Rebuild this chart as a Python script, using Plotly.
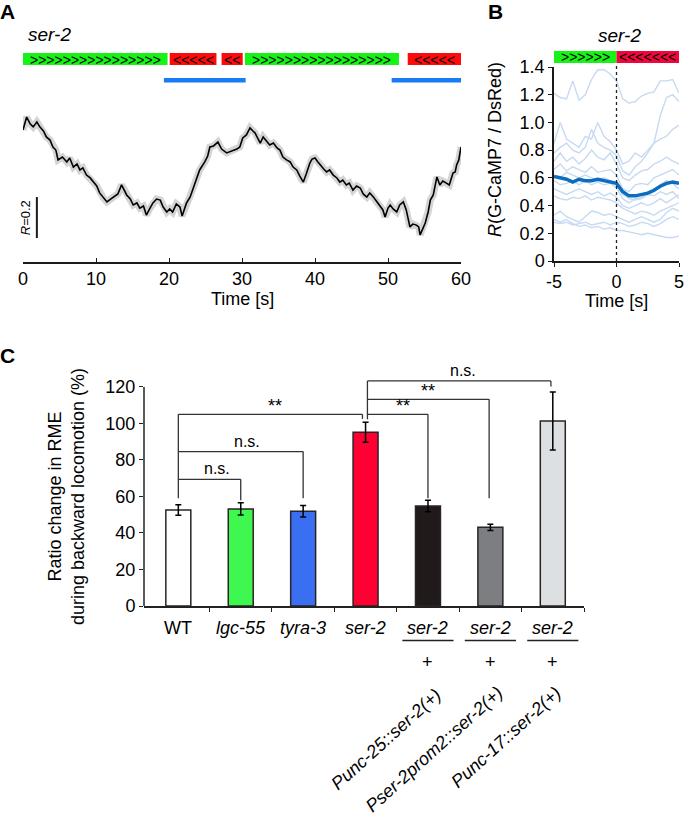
import plotly.graph_objects as go

W, H = 685, 818
def fx(px): return px / W
def fy(py): return 1 - py / H

FONT = "Liberation Sans, Arial, Helvetica, sans-serif"

# ---------------- Panel A data ----------------
a_time = [0, 0.5, 1.0, 1.4, 1.9, 2.3, 2.8, 3.2, 3.7, 4.1, 4.5, 4.8, 5.4, 6.0, 6.4, 6.9, 7.4, 7.8, 8.2, 8.7,
          9.2, 9.6, 10.1, 10.5, 11.0, 11.5, 12.0, 12.4, 13.0, 13.5, 14.0, 14.2, 14.7, 15.1, 15.6, 16.0, 16.5,
          16.9, 17.4, 17.8, 18.3, 18.8, 19.2, 19.7, 20.1, 20.5, 21.0, 21.5, 21.8, 22.4, 22.9, 23.3, 23.8, 24.2,
          24.9, 25.3, 25.6, 26.1, 26.7, 27.2, 27.9, 28.3, 28.8, 29.3, 29.7, 30.1, 30.6, 31.1, 31.5, 31.8, 32.2,
          32.5, 32.9, 33.4, 33.8, 34.3, 34.8, 35.2, 35.6, 36.1, 36.6, 37.0, 37.5, 37.9, 38.4, 38.8, 39.3, 39.6,
          40.0, 40.4, 40.7, 41.2, 41.6, 42.0, 42.5, 43.0, 43.4, 43.8, 44.3, 44.7, 45.2, 45.7, 46.2, 46.6, 47.1,
          47.5, 48.0, 48.4, 48.9, 49.3, 49.6, 50.0, 50.3, 50.7, 51.2, 51.6, 52.1, 52.5, 53.0, 53.4, 53.9, 54.2,
          54.4, 54.8, 55.1, 55.5, 55.8, 56.2, 56.7, 57.1, 57.5, 58.0, 58.4, 58.9, 59.2, 59.4, 59.7, 60.0]
a_ratio = [0.644, 0.707, 0.673, 0.659, 0.683, 0.659, 0.639, 0.610, 0.595, 0.561, 0.546, 0.498, 0.512, 0.488,
           0.507, 0.463, 0.478, 0.449, 0.459, 0.424, 0.410, 0.390, 0.371, 0.337, 0.312, 0.293, 0.307, 0.317,
           0.332, 0.376, 0.341, 0.327, 0.307, 0.278, 0.288, 0.263, 0.273, 0.229, 0.263, 0.288, 0.307, 0.302,
           0.268, 0.244, 0.259, 0.244, 0.283, 0.268, 0.224, 0.288, 0.317, 0.361, 0.410, 0.449, 0.488, 0.517,
           0.561, 0.566, 0.585, 0.551, 0.532, 0.537, 0.546, 0.551, 0.561, 0.605, 0.620, 0.654, 0.639, 0.629,
           0.600, 0.580, 0.610, 0.590, 0.571, 0.580, 0.556, 0.546, 0.512, 0.498, 0.488, 0.463, 0.449, 0.420,
           0.390, 0.429, 0.483, 0.502, 0.507, 0.488, 0.473, 0.454, 0.439, 0.449, 0.424, 0.410, 0.390, 0.400,
           0.376, 0.385, 0.351, 0.371, 0.361, 0.332, 0.317, 0.337, 0.317, 0.298, 0.278, 0.254, 0.220, 0.263,
           0.278, 0.259, 0.244, 0.278, 0.293, 0.254, 0.171, 0.185, 0.180, 0.171, 0.132, 0.166, 0.190, 0.244,
           0.302, 0.327, 0.415, 0.376, 0.395, 0.385, 0.376, 0.434, 0.439, 0.473, 0.498, 0.561]
a_fwd_start = [0.0, 30.4]
a_fwd_end = [19.8, 51.5]
a_fwd_n = [16, 17]
a_bwd_start = [20.1, 27.2, 52.7]
a_bwd_end = [26.5, 30.1, 60.0]
a_bwd_n = [5, 2, 5]
a_hl_start = [19.3, 50.5]
a_hl_end = [30.5, 60.0]
a_ticks = [0, 10, 20, 30, 40, 50, 60]

# ---------------- Panel B data ----------------
b_time = [-5, -4.5, -4, -3.5, -3, -2.5, -2, -1.5, -1, -0.5, 0, 0.5, 1, 1.5, 2, 2.5, 3, 3.5, 4, 4.5, 5]
b_trials = [
    [1.21, 1.18, 1.17, 1.30, 1.16, 1.20, 1.31, 1.38, 1.38, 1.35, 1.30, 1.17, 1.14, 1.15, 1.19, 1.21, 1.22, 1.30, 1.30, 1.31, 1.21],
    [0.85, 1.00, 0.88, 0.85, 0.82, 0.90, 0.88, 1.00, 0.90, 0.86, 0.80, 0.70, 0.72, 0.78, 0.75, 0.80, 0.85, 1.05, 1.18, 1.20, 1.15],
    [0.78, 0.82, 0.85, 0.80, 0.78, 0.82, 0.95, 0.85, 0.82, 0.80, 0.76, 0.65, 0.62, 0.68, 0.72, 0.78, 0.85, 0.88, 0.90, 0.95, 0.98],
    [0.72, 0.78, 0.72, 0.75, 0.70, 0.74, 0.80, 0.75, 0.73, 0.78, 0.70, 0.60, 0.58, 0.62, 0.65, 0.66, 0.70, 0.72, 0.75, 0.72, 0.70],
    [0.66, 0.70, 0.65, 0.68, 0.66, 0.64, 0.68, 0.64, 0.65, 0.66, 0.62, 0.52, 0.50, 0.55, 0.56, 0.55, 0.60, 0.62, 0.64, 0.66, 0.62],
    [0.62, 0.60, 0.64, 0.62, 0.60, 0.62, 0.60, 0.58, 0.60, 0.58, 0.55, 0.48, 0.45, 0.44, 0.45, 0.48, 0.47, 0.50, 0.48, 0.50, 0.45],
    [0.58, 0.55, 0.56, 0.58, 0.55, 0.58, 0.55, 0.57, 0.55, 0.56, 0.53, 0.45, 0.42, 0.45, 0.46, 0.48, 0.50, 0.55, 0.58, 0.56, 0.52],
    [0.52, 0.50, 0.48, 0.50, 0.52, 0.50, 0.48, 0.50, 0.47, 0.49, 0.46, 0.40, 0.38, 0.40, 0.42, 0.40, 0.42, 0.45, 0.42, 0.45, 0.48],
    [0.47, 0.45, 0.44, 0.46, 0.45, 0.47, 0.44, 0.46, 0.45, 0.44, 0.42, 0.38, 0.36, 0.34, 0.36, 0.35, 0.33, 0.36, 0.38, 0.40, 0.42],
    [0.33, 0.36, 0.32, 0.30, 0.28, 0.32, 0.36, 0.35, 0.33, 0.34, 0.32, 0.30, 0.28, 0.30, 0.32, 0.30, 0.28, 0.30, 0.35, 0.38, 0.36],
    [0.28, 0.27, 0.28, 0.26, 0.27, 0.28, 0.26, 0.27, 0.28, 0.26, 0.28, 0.27, 0.25, 0.26, 0.28, 0.27, 0.25, 0.27, 0.30, 0.32, 0.30],
    [0.30, 0.28, 0.30, 0.27, 0.25, 0.26, 0.24, 0.25, 0.23, 0.24, 0.22, 0.22, 0.21, 0.20, 0.19, 0.20, 0.19, 0.18, 0.17, 0.17, 0.18],
]
b_mean = [0.61, 0.60, 0.59, 0.57, 0.59, 0.58, 0.58, 0.59, 0.58, 0.57, 0.56, 0.50, 0.47, 0.47, 0.48, 0.49, 0.51, 0.54, 0.56, 0.57, 0.56]
b_xticks = [-5, 0, 5]
b_xticktext = ["-5", "0", "5"]
b_yticks = [0, 0.2, 0.4, 0.6, 0.8, 1.0, 1.2, 1.4]
b_yticktext = ["0", "0.2", "0.4", "0.6", "0.8", "1.0", "1.2", "1.4"]

# ---------------- Panel C data ----------------
c_labels = ["WT", "<i>lgc-55</i>", "<i>tyra-3</i>", "<i>ser-2</i>", "<i>ser-2</i>", "<i>ser-2</i>", "<i>ser-2</i>"]
c_rescue = ["", "", "", "", "Punc-25::ser-2(+)", "Pser-2prom2::ser-2(+)", "Punc-17::ser-2(+)"]
c_values = [52.6, 53.2, 51.9, 95.2, 54.8, 43.1, 101.4]
c_errors = [2.9, 3.4, 3.2, 5.5, 3.1, 1.7, 15.9]
c_colors = ["#ffffff", "#3ff84f", "#3a6ff2", "#ff0033", "#211a1b", "#7c7e82", "#dde0e3"]
c_yticks = [0, 20, 40, 60, 80, 100, 120]

fig = go.Figure()

# Panel A traces
fig.add_trace(go.Scatter(x=a_time, y=a_ratio, mode="lines", line=dict(color="#d4d4d4", width=7),
                         xaxis="x", yaxis="y", hoverinfo="skip"))
fig.add_trace(go.Scatter(x=a_time, y=a_ratio, mode="lines", line=dict(color="#000000", width=1.6),
                         xaxis="x", yaxis="y"))

# Panel B traces
for tr in b_trials:
    fig.add_trace(go.Scatter(x=b_time, y=tr, mode="lines", line=dict(color="#c6daf2", width=1.4),
                             xaxis="x2", yaxis="y2"))
fig.add_trace(go.Scatter(x=b_time, y=b_mean, mode="lines", line=dict(color="#0b6cc0", width=3.5),
                         xaxis="x2", yaxis="y2"))

# Panel C bars
fig.add_trace(go.Bar(x=list(range(len(c_values))), y=c_values, width=0.4,
                     marker=dict(color=c_colors, line=dict(color="#2b2326", width=1.5)),
                     error_y=dict(type="data", array=c_errors, color="#000000", thickness=1.5, width=3),
                     xaxis="x3", yaxis="y3"))

shapes = []
annotations = []

def ann(**kw):
    d = dict(showarrow=False, xanchor="center", yanchor="middle")
    d.update(kw)
    annotations.append(d)

def tf(size=18):
    return dict(size=size, color="black", family=FONT)

# Panel A top bars
bar_y0, bar_y1 = fy(65), fy(53)
for s, e, n in zip(a_fwd_start, a_fwd_end, a_fwd_n):
    shapes.append(dict(type="rect", xref="x", yref="paper", x0=s, x1=e, y0=bar_y0, y1=bar_y1,
                       fillcolor="#17f317", line=dict(width=0)))
    ann(xref="x", yref="paper", x=(s + e) / 2, y=fy(59.5), text=">" * n, font=tf(14))
for s, e, n in zip(a_bwd_start, a_bwd_end, a_bwd_n):
    shapes.append(dict(type="rect", xref="x", yref="paper", x0=s, x1=e, y0=bar_y0, y1=bar_y1,
                       fillcolor="#ff0a0a", line=dict(width=0)))
    ann(xref="x", yref="paper", x=(s + e) / 2, y=fy(59.5), text="<" * n, font=tf(14))
for s, e in zip(a_hl_start, a_hl_end):
    shapes.append(dict(type="rect", xref="x", yref="paper", x0=s, x1=e, y0=fy(82.5), y1=fy(78),
                       fillcolor="#1a7cf5", line=dict(width=0)))
# scale bar
shapes.append(dict(type="line", xref="x", yref="y", x0=1.9, x1=1.9, y0=0.117, y1=0.317,
                   line=dict(color="#1a1a1a", width=2)))
ann(xref="x", yref="y", x=0.45, y=0.215, text="<i>R</i>=0.2", textangle=-90, font=tf(13))

# Panel B top bars + dotted line
shapes.append(dict(type="rect", xref="x2", yref="paper", x0=-5, x1=0, y0=fy(63), y1=fy(51),
                   fillcolor="#17f317", line=dict(width=0)))
shapes.append(dict(type="rect", xref="x2", yref="paper", x0=0, x1=5, y0=fy(63), y1=fy(51),
                   fillcolor="#f0063c", line=dict(width=0)))
ann(xref="x2", yref="paper", x=-2.5, y=fy(57.5), text=">" * 6, font=tf(14))
ann(xref="x2", yref="paper", x=2.5, y=fy(57.5), text="<" * 7, font=tf(14))
shapes.append(dict(type="line", xref="x2", yref="paper", x0=0, x1=0, y0=fy(261), y1=fy(63),
                   line=dict(color="#222222", width=1.3, dash="dot")))

# Panel C y-axis line (0..120)
shapes.append(dict(type="line", xref="x3 domain", yref="y3", x0=0, x1=0, y0=0, y1=120,
                   line=dict(color="#222222", width=1.5)))

# Panel C significance brackets
LC = dict(color="#333333", width=1.3)
def seg(x0, y0, x1, y1):
    shapes.append(dict(type="line", xref="x3", yref="y3", x0=x0, y0=y0, x1=x1, y1=y1, line=LC))

sig_left = [0, 0, 0, 3.03, 3.03, 3.03]
sig_right = [1, 2, 2.95, 4, 4.98, 5.97]
sig_height = [69.4, 84.6, 105, 105, 113.2, 123.3]
sig_drop = [58, 59, 102.5, 59, 59, 120.2]
sig_text = ["n.s.", "n.s.", "**", "**", "**", "n.s."]
sig_text_x = [0.62, 1.10, 1.55, 3.60, 4.0, 4.56]
seg(0, 59, 0, 105)
seg(3.03, 102.3, 3.03, 123.3)
for l, r, h, d, t, tx in zip(sig_left, sig_right, sig_height, sig_drop, sig_text, sig_text_x):
    seg(l, h, r, h)
    seg(r, h, r, d)
    if t == "**":
        ann(xref="x3", yref="y3", x=tx, y=h, yanchor="bottom", yshift=-4, text=t, font=tf(18))
    else:
        ann(xref="x3", yref="y3", x=tx, y=h, yanchor="bottom", text=t, font=tf(16))

# Panel C category labels
for i, lab in enumerate(c_labels):
    ann(xref="x3", yref="paper", x=i, y=fy(628), text=lab, font=tf(18))
rot_right = [448, 510, 568]
rot_top = [682, 680, 680]
k = 0
for i, r in enumerate(c_rescue):
    if not r:
        continue
    shapes.append(dict(type="line", xref="x3", yref="paper", x0=i - 0.41, x1=i + 0.41, y0=fy(640.5), y1=fy(640.5),
                       line=dict(color="#222222", width=1.6)))
    ann(xref="x3", yref="paper", x=i, y=fy(662), text="+", font=tf(18))
    ann(xref="paper", yref="paper", x=fx(rot_right[k]), y=fy(rot_top[k]), xanchor="right", yanchor="top",
        textangle=-42, text="<i>" + r + "</i>", font=tf(18))
    k += 1

# Titles / labels
ann(xref="paper", yref="paper", x=fx(7.5), y=fy(11), text="<b>A</b>", font=tf(21))
ann(xref="paper", yref="paper", x=fx(495), y=fy(11), text="<b>B</b>", font=tf(21))
ann(xref="paper", yref="paper", x=fx(7.5), y=fy(355), text="<b>C</b>", font=tf(21))
ann(xref="paper", yref="paper", x=fx(50), y=fy(35), text="<i>ser-2</i>", font=tf(19))
ann(xref="paper", yref="paper", x=fx(619), y=fy(36), text="<i>ser-2</i>", font=tf(19))
ann(xref="paper", yref="paper", x=fx(242), y=fy(299), text="Time [s]", font=tf(18))
ann(xref="paper", yref="paper", x=fx(616), y=fy(301), text="Time [s]", font=tf(18))
ann(xref="paper", yref="paper", x=fx(495), y=fy(150), text="<i>R</i>(G-CaMP7 / DsRed)", textangle=-90, font=tf(18))
ann(xref="paper", yref="paper", x=fx(66), y=fy(497),
    text="Ratio change in RME<br>during backward locomotion (%)", textangle=-90, font=tf(18))

tickfont = tf(18)
common = dict(automargin=False, showgrid=False, zeroline=False)
fig.update_layout(
    width=W, height=H, margin=dict(l=0, r=0, t=0, b=0, pad=0), autosize=False,
    paper_bgcolor="white", plot_bgcolor="rgba(0,0,0,0)",
    showlegend=False, font=dict(family=FONT, color="black"),
    xaxis=dict(domain=[fx(23), fx(461)], range=[0, 60], anchor="y", showline=True, linecolor="#1a1a1a",
               linewidth=1.5, ticks="inside", ticklen=4, tickcolor="#1a1a1a", tickvals=a_ticks,
               tickfont=tickfont, **common),
    yaxis=dict(domain=[fy(262), fy(57)], range=[0, 1], anchor="x", visible=False, **common),
    xaxis2=dict(domain=[fx(554), fx(679)], range=[-5, 5], anchor="y2", showline=True, linecolor="#1a1a1a",
                linewidth=1.5, ticks="outside", ticklen=4, tickcolor="#1a1a1a", tickvals=b_xticks,
                ticktext=b_xticktext, tickfont=tickfont, **common),
    yaxis2=dict(domain=[fy(261), fy(67)], range=[0, 1.4], anchor="x2", showline=True, linecolor="#1a1a1a",
                linewidth=1.5, ticks="outside", ticklen=4, tickcolor="#1a1a1a", tickvals=b_yticks,
                ticktext=b_yticktext, tickfont=tickfont, **common),
    xaxis3=dict(domain=[fx(144), fx(584)], range=[-0.55, 6.5], anchor="y3", showline=True, linecolor="#222222",
                linewidth=1.5, ticks="outside", ticklen=4, tickcolor="#222222",
                tickvals=[0.5, 1.5, 2.5, 3.5, 4.5, 5.5, 6.5], ticktext=[""] * 7, **common),
    yaxis3=dict(domain=[fy(606), fy(376)], range=[0, 126], anchor="x3", showline=False,
                ticks="outside", ticklen=4, tickcolor="#222222", tickvals=c_yticks,
                tickfont=tickfont, **common),
    shapes=shapes, annotations=annotations,
)

fig.write_html("out.html", config={"displayModeBar": False},
               post_script="document.body.style.margin='0';document.body.style.padding='0';")
